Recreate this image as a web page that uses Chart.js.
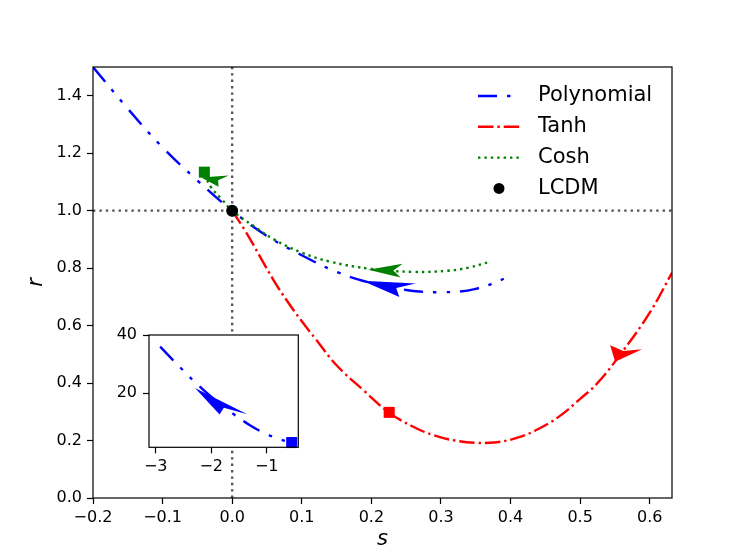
<!DOCTYPE html>
<html>
<head>
<meta charset="utf-8">
<script src="https://cdn.jsdelivr.net/npm/chart.js@4.4.1/dist/chart.umd.min.js"></script>
<style>
  html, body { margin: 0; padding: 0; background: #fff; }
  #wrap { position: relative; width: 747px; height: 560px; }
  #wrap canvas { position: absolute; left: 0; top: 0; }
</style>
</head>
<body>
<div id="wrap">
  <canvas id="main" width="747" height="560"></canvas>
  <canvas id="inset" width="747" height="560"></canvas>
</div>
<script>
const FONT = '"DejaVu Sans", sans-serif';

// ---- main panel data (s, r) ----
const polyS = [-0.2, -0.15, -0.1, -0.05, 0.0, 0.05, 0.1, 0.15, 0.2, 0.25, 0.3, 0.35, 0.4];
const polyR = [1.50, 1.355, 1.22, 1.105, 1.00, 0.912, 0.845, 0.787, 0.748, 0.724, 0.716, 0.728, 0.772];

const tanhS = [0.0, 0.02, 0.04, 0.06, 0.08, 0.1, 0.12, 0.15, 0.19, 0.225, 0.26, 0.29, 0.32, 0.35,
               0.38, 0.41, 0.44, 0.47, 0.5, 0.525, 0.56, 0.6, 0.632];
const tanhR = [1.0, 0.925, 0.84, 0.756, 0.682, 0.615, 0.553, 0.462, 0.372, 0.298, 0.248, 0.218, 0.2, 0.192,
               0.194, 0.21, 0.24, 0.284, 0.345, 0.40, 0.507, 0.645, 0.784];

const coshS = [-0.04, -0.03, -0.015, 0.0, 0.03, 0.06, 0.1, 0.14, 0.2, 0.26, 0.31, 0.34, 0.37];
const coshR = [1.125, 1.08, 1.04, 1.0, 0.948, 0.90, 0.854, 0.823, 0.797, 0.787, 0.791, 0.802, 0.822];

const lcdmS = [0.0];
const lcdmR = [1.0];

// present-day points (squares)
const coshNowS = [-0.04];
const coshNowR = [1.134];
const tanhNowS = [0.2256];
const tanhNowR = [0.298];

// arrow heads: tip and back-centre in data units, half width in data units
const arrowTipS  = [0.1868, 0.1954, -0.0445, 0.5503];
const arrowTipR  = [0.756, 0.794, 1.115, 0.474];
const arrowBackS = [0.252, 0.2435, -0.0122, 0.566];
const arrowBackR = [0.723, 0.791, 1.103, 0.5245];
const arrowHalfW = [0.026, 0.024, 0.021, 0.024];
const arrowColor = ['#0000ff', '#008000', '#008000', '#ff0000'];

const sLimits = [-0.2, 0.632];
const rLimits = [0, 1.5];

// ---- inset data ----
const insetS = [-2.92, -2.71, -2.44, -2.32, -2.0, -1.6, -1.31, -1.07, -0.76, -0.55];
const insetR = [36.0, 31.8, 26.6, 24.3, 18.8, 12.9, 9.1, 6.6, 4.2, 3.1];
const insetNowS = [-0.55];
const insetNowR = [3.1];
const insetArrowTipS = [-2.292];
const insetArrowTipR = [21.8];
const insetArrowBackS = [-1.6];
const insetArrowBackR = [12.75];
const insetArrowHalfW = [0.25];
const insetArrowColor = ['#0000ff'];
const insetSLimits = [-3.121, -0.431];
const insetRLimits = [1.47, 40];

const BLUE_DASH = [19, 10, 3.5, 10, 3.5, 10];
const RED_DASH = [15.5, 3.9, 2.4, 3.9];
const DOT = [2.4, 4];

const toXY = (xs, ys) => xs.map((v, i) => ({ x: v, y: ys[i] }));

function minusFmt(v, digits) {
  if (Math.abs(v) < 1e-9) return (0).toFixed(digits);
  const t = Math.abs(v).toFixed(digits);
  return v < 0 ? '\u2212' + t : t;
}

// Stealth-like arrow heads drawn in data space (so they skew like the original).
const arrowPlugin = {
  id: 'arrowHeads',
  afterDatasetsDraw(chart, args, opts) {
    const { ctx, scales: { x, y } } = chart;
    const notch = 0.75;
    opts.tipS.forEach((ts, i) => {
      const tr = opts.tipR[i];
      const dx = opts.backS[i] - ts;
      const dy = opts.backR[i] - tr;
      const len = Math.hypot(dx, dy);
      const px = (-dy / len) * opts.halfW[i];
      const py = (dx / len) * opts.halfW[i];
      const pts = [
        [ts, tr],
        [opts.backS[i] + px, opts.backR[i] + py],
        [ts + dx * notch, tr + dy * notch],
        [opts.backS[i] - px, opts.backR[i] - py],
      ];
      ctx.save();
      ctx.beginPath();
      pts.forEach(([s, r], k) => {
        const X = x.getPixelForValue(s);
        const Y = y.getPixelForValue(r);
        if (k) ctx.lineTo(X, Y); else ctx.moveTo(X, Y);
      });
      ctx.closePath();
      ctx.fillStyle = opts.color[i];
      ctx.fill();
      ctx.restore();
    });
  },
};

// Full box round the axes, plus optional white fill (for the inset).
const framePlugin = {
  id: 'frame',
  beforeDraw(chart, args, opts) {
    if (!opts.fill) return;
    const { ctx, chartArea: a } = chart;
    ctx.save();
    ctx.fillStyle = '#fff';
    ctx.fillRect(a.left, a.top, a.right - a.left, a.bottom - a.top);
    ctx.restore();
  },
  afterDatasetsDraw(chart) {
    const { ctx, chartArea: a } = chart;
    ctx.save();
    ctx.strokeStyle = '#000';
    ctx.lineWidth = 1.2;
    ctx.strokeRect(a.left, a.top, a.right - a.left, a.bottom - a.top);
    ctx.restore();
  },
};

// matplotlib-style legend without frame, upper right.
const legendPlugin = {
  id: 'cornerLegend',
  afterDraw(chart, args, opts) {
    const ctx = chart.ctx;
    ctx.save();
    ctx.font = opts.font;
    ctx.textBaseline = 'middle';
    opts.labels.forEach((label, i) => {
      const ds = chart.data.datasets.find((d) => d.label === label);
      const yy = opts.y0 + i * opts.dy;
      if (ds.showLine) {
        ctx.strokeStyle = ds.borderColor;
        ctx.lineWidth = ds.borderWidth;
        ctx.setLineDash(ds.borderDash || []);
        ctx.beginPath();
        ctx.moveTo(opts.x0, yy);
        ctx.lineTo(opts.x1, yy);
        ctx.stroke();
        ctx.setLineDash([]);
      } else {
        ctx.fillStyle = ds.pointBackgroundColor;
        ctx.beginPath();
        ctx.arc((opts.x0 + opts.x1) / 2, yy, opts.markerR, 0, 2 * Math.PI);
        ctx.fill();
      }
      ctx.fillStyle = '#000';
      ctx.fillText(ds.label, opts.textX, yy);
    });
    ctx.restore();
  },
};

function tickGrid() {
  return { drawOnChartArea: false, drawTicks: true, tickLength: 6, tickColor: '#000', tickWidth: 1.2, color: '#000' };
}

new Chart(document.getElementById('main'), {
  type: 'scatter',
  data: {
    datasets: [
      { label: 'vline', data: toXY([0, 0], rLimits), showLine: true, borderColor: '#555', borderWidth: 2.4,
        borderDash: DOT, pointRadius: 0, order: 10 },
      { label: 'hline', data: toXY(sLimits, [1, 1]), showLine: true, borderColor: '#555', borderWidth: 2.4,
        borderDash: DOT, pointRadius: 0, order: 10 },
      { label: 'Polynomial', data: toXY(polyS, polyR), showLine: true, borderColor: '#0000ff', borderWidth: 2.4,
        borderDash: BLUE_DASH, pointRadius: 0, tension: 0.4, order: 5 },
      { label: 'Tanh', data: toXY(tanhS, tanhR), showLine: true, borderColor: '#ff0000', borderWidth: 2.4,
        borderDash: RED_DASH, pointRadius: 0, tension: 0.4, order: 6 },
      { label: 'Cosh', data: toXY(coshS, coshR), showLine: true, borderColor: '#008000', borderWidth: 2.4,
        borderDash: DOT, pointRadius: 0, tension: 0.4, order: 4 },
      { label: 'coshNow', data: toXY(coshNowS, coshNowR), showLine: false, pointStyle: 'rect', pointRadius: 7.8,
        pointBackgroundColor: '#008000', pointBorderWidth: 0, clip: false, order: 2 },
      { label: 'tanhNow', data: toXY(tanhNowS, tanhNowR), showLine: false, pointStyle: 'rect', pointRadius: 7.8,
        pointBackgroundColor: '#ff0000', pointBorderWidth: 0, clip: false, order: 2 },
      { label: 'LCDM', data: toXY(lcdmS, lcdmR), showLine: false, pointStyle: 'circle', pointRadius: 6,
        pointBackgroundColor: '#000', pointBorderWidth: 0, clip: false, order: 1 },
    ],
  },
  options: {
    responsive: false,
    animation: false,
    events: [],
    layout: { padding: { left: 0, top: 67, right: 75, bottom: 0 } },
    plugins: {
      legend: { display: false },
      tooltip: { enabled: false },
      arrowHeads: { tipS: arrowTipS, tipR: arrowTipR, backS: arrowBackS, backR: arrowBackR,
                    halfW: arrowHalfW, color: arrowColor },
      frame: { fill: false },
      cornerLegend: { labels: ['Polynomial', 'Tanh', 'Cosh', 'LCDM'], font: '21px ' + FONT,
                      x0: 478, x1: 520, textX: 538, y0: 96, dy: 30.8, markerR: 5.5 },
    },
    scales: {
      x: {
        type: 'linear', min: sLimits[0], max: sLimits[1],
        afterFit: (s) => { s.height = 62; },
        grid: tickGrid(),
        border: { display: false },
        ticks: { stepSize: 0.1, includeBounds: false, padding: 4, color: '#000',
                 font: { family: FONT, size: 16 }, callback: (v) => minusFmt(v, 1) },
        title: { display: true, text: 's', color: '#000', padding: { top: 0, bottom: 8 },
                 font: { family: FONT, size: 21, style: 'italic' } },
      },
      y: {
        type: 'linear', min: rLimits[0], max: rLimits[1],
        afterFit: (s) => { s.width = 93; },
        grid: tickGrid(),
        border: { display: false },
        ticks: { stepSize: 0.2, includeBounds: false, padding: 5, color: '#000',
                 font: { family: FONT, size: 16 }, callback: (v) => minusFmt(v, 1) },
        title: { display: true, text: 'r', color: '#000', padding: { top: 24, bottom: 0 },
                 font: { family: FONT, size: 21, style: 'italic' } },
      },
    },
  },
  plugins: [arrowPlugin, framePlugin, legendPlugin],
});

new Chart(document.getElementById('inset'), {
  type: 'scatter',
  data: {
    datasets: [
      { label: 'Polynomial', data: toXY(insetS, insetR), showLine: true, borderColor: '#0000ff', borderWidth: 2.4,
        borderDash: BLUE_DASH, pointRadius: 0, tension: 0.4, order: 5 },
      { label: 'polyNow', data: toXY(insetNowS, insetNowR), showLine: false, pointStyle: 'rect', pointRadius: 7.8,
        pointBackgroundColor: '#0000ff', pointBorderWidth: 0, clip: false, order: 1 },
    ],
  },
  options: {
    responsive: false,
    animation: false,
    events: [],
    layout: { padding: { left: 109, top: 335, right: 448.7, bottom: 82.7 } },
    plugins: {
      legend: { display: false },
      tooltip: { enabled: false },
      arrowHeads: { tipS: insetArrowTipS, tipR: insetArrowTipR, backS: insetArrowBackS, backR: insetArrowBackR,
                    halfW: insetArrowHalfW, color: insetArrowColor },
      frame: { fill: true },
    },
    scales: {
      x: {
        type: 'linear', min: insetSLimits[0], max: insetSLimits[1],
        afterFit: (s) => { s.height = 30; },
        grid: tickGrid(),
        border: { display: false },
        ticks: { stepSize: 1, includeBounds: false, padding: 4, color: '#000',
                 font: { family: FONT, size: 16 }, callback: (v) => minusFmt(v, 0) },
      },
      y: {
        type: 'linear', min: insetRLimits[0], max: insetRLimits[1],
        afterFit: (s) => { s.width = 40; },
        grid: tickGrid(),
        border: { display: false },
        ticks: { stepSize: 20, includeBounds: false, padding: 6, color: '#000',
                 font: { family: FONT, size: 16 }, callback: (v) => minusFmt(v, 0) },
      },
    },
  },
  plugins: [arrowPlugin, framePlugin],
});
</script>
</body>
</html>
